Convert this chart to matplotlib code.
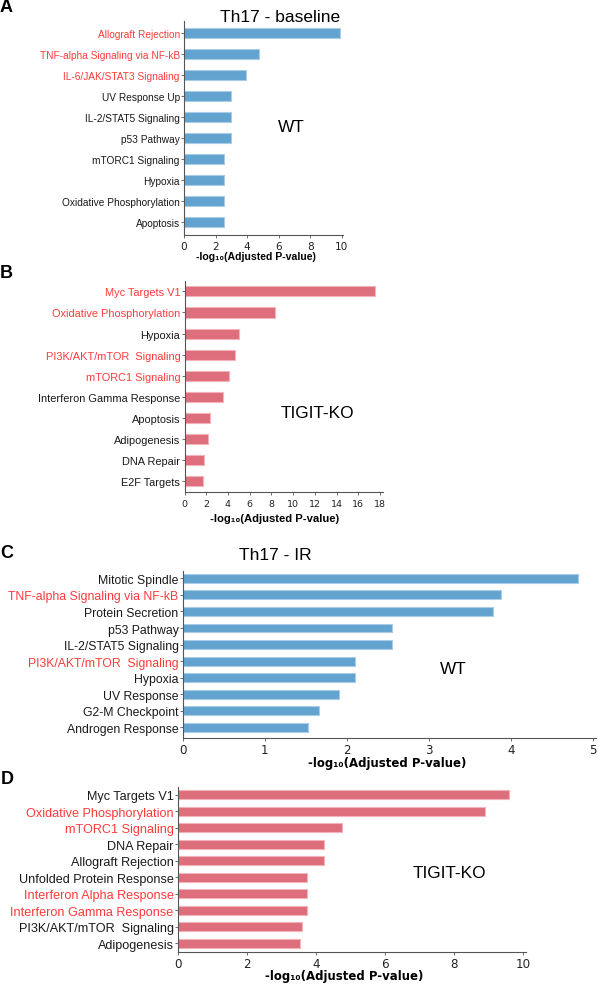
import matplotlib
matplotlib.use("Agg")
import matplotlib.pyplot as plt
import numpy as np

W, H = 599, 987

# panel A: Th17 baseline, WT
a_terms = ["Allograft Rejection", "TNF-alpha Signaling via NF-kB", "IL-6/JAK/STAT3 Signaling",
           "UV Response Up", "IL-2/STAT5 Signaling", "p53 Pathway", "mTORC1 Signaling",
           "Hypoxia", "Oxidative Phosphorylation", "Apoptosis"]
a_values = [9.92, 4.77, 3.92, 2.97, 2.98, 2.98, 2.53, 2.53, 2.53, 2.53]
a_red = [0, 1, 2]

# panel B: Th17 baseline, TIGIT-KO
b_terms = ["Myc Targets V1", "Oxidative Phosphorylation", "Hypoxia", "PI3K/AKT/mTOR  Signaling",
           "mTORC1 Signaling", "Interferon Gamma Response", "Apoptosis", "Adipogenesis",
           "DNA Repair", "E2F Targets"]
b_values = [17.5, 8.37, 5.06, 4.66, 4.08, 3.56, 2.39, 2.18, 1.78, 1.72]
b_red = [0, 1, 3, 4]

# panel C: Th17 IR, WT
c_terms = ["Mitotic Spindle", "TNF-alpha Signaling via NF-kB", "Protein Secretion", "p53 Pathway",
           "IL-2/STAT5 Signaling", "PI3K/AKT/mTOR  Signaling", "Hypoxia", "UV Response",
           "G2-M Checkpoint", "Androgen Response"]
c_values = [4.82, 3.88, 3.78, 2.55, 2.55, 2.10, 2.10, 1.90, 1.66, 1.53]
c_red = [1, 5]

# panel D: Th17 IR, TIGIT-KO
d_terms = ["Myc Targets V1", "Oxidative Phosphorylation", "mTORC1 Signaling", "DNA Repair",
           "Allograft Rejection", "Unfolded Protein Response", "Interferon Alpha Response",
           "Interferon Gamma Response", "PI3K/AKT/mTOR  Signaling", "Adipogenesis"]
d_values = [9.6, 8.92, 4.75, 4.25, 4.25, 3.76, 3.76, 3.76, 3.61, 3.53]
d_red = [1, 2, 6, 7]

BLUE = "#62a3cf"
BLUE_EDGE = "#a9cde8"
PINK = "#de6e7b"
PINK_EDGE = "#f2b3ba"
RED = "#ff3b3b"
SPINE = "#555555"
XLABEL = "-log\u2081\u2080(Adjusted P-value)"


def fx(x):
    return x / W


def fy(y):
    return 1 - y / H


def panel(fig, rect, terms, values, red, color, edge, xmax, xticks, ylim,
          label_size, tick_size, height, xpad=2):
    left, right, top, bottom = rect
    ax = fig.add_axes([fx(left), fy(bottom), fx(right) - fx(left), fy(top) - fy(bottom)])
    pos = np.arange(len(terms))
    ax.barh(pos, values, height=height, color=color, edgecolor=edge, linewidth=0.8)
    ax.set_xlim(0, xmax)
    ax.set_ylim(*ylim)
    ax.set_yticks(pos)
    ax.set_yticklabels(terms, fontsize=label_size, family="Liberation Sans")
    for i, lab in enumerate(ax.get_yticklabels()):
        lab.set_color(RED if i in red else "#1a1a1a")
    ax.set_xticks(xticks)
    ax.set_xticklabels([str(t) for t in xticks], fontsize=tick_size, color="#222222")
    ax.tick_params(axis="y", length=2.5, width=0.6, pad=0.5, color=SPINE)
    ax.tick_params(axis="x", length=2.5, width=0.6, pad=xpad, color=SPINE)
    for s in ["top", "right"]:
        ax.spines[s].set_visible(False)
    for s in ["left", "bottom"]:
        ax.spines[s].set_color(SPINE)
        ax.spines[s].set_linewidth(0.8)
    return ax


fig = plt.figure(figsize=(W / 100, H / 100), dpi=100)

panel(fig, (184, 343.3, 22.4, 236), a_terms, a_values, a_red, BLUE, BLUE_EDGE,
      10.1, [0, 2, 4, 6, 8, 10], (9.6, -0.55), 7.3, 7.6, 0.48)
panel(fig, (184.5, 383.4, 281.8, 493.3), b_terms, b_values, b_red, PINK, PINK_EDGE,
      18.3, list(range(0, 19, 2)), (9.52, -0.5), 7.9, 6.8, 0.48)
panel(fig, (182.7, 595.7, 571.7, 739.3), c_terms, c_values, c_red, BLUE, BLUE_EDGE,
      5.03, [0, 1, 2, 3, 4, 5], (9.66, -0.46), 8.8, 8.6, 0.53, xpad=1.2)
panel(fig, (177.7, 526.2, 788.3, 952.7), d_terms, d_values, d_red, PINK, PINK_EDGE,
      10.1, [0, 2, 4, 6, 8, 10], (9.51, -0.45), 9.1, 8.6, 0.53, xpad=1.5)

# panel letters
for letter, x, y in [("A", 6, 8), ("B", 6, 274), ("C", 7, 554), ("D", 7, 780)]:
    fig.text(fx(x), fy(y), letter, fontsize=13, fontweight="bold", family="Liberation Sans",
             ha="center", va="center")

# titles and group labels
fig.text(fx(280), fy(17), "Th17 - baseline", fontsize=12.5, family="Liberation Sans",
         ha="center", va="center")
fig.text(fx(275), fy(555), "Th17 - IR", fontsize=12.5, family="Liberation Sans",
         ha="center", va="center")
for txt, x, y in [("WT", 291, 127), ("TIGIT-KO", 317, 414), ("WT", 453, 670), ("TIGIT-KO", 449, 873)]:
    fig.text(fx(x), fy(y), txt, fontsize=12.4, family="Liberation Sans", ha="center", va="center")

# x axis labels (left edge, baseline)
fig.text(fx(196), fy(260), XLABEL, fontsize=7.6, fontweight="bold", family="Liberation Sans",
         ha="left", va="baseline")
fig.text(fx(210), fy(521.5), XLABEL, fontsize=8.1, fontweight="bold", family="Liberation Sans",
         ha="left", va="baseline")
fig.text(fx(308), fy(767), XLABEL, fontsize=8.5, fontweight="bold", ha="left", va="baseline")
fig.text(fx(265), fy(980.5), XLABEL, fontsize=8.5, fontweight="bold", ha="left", va="baseline")

fig.savefig("out.png", dpi=100)
